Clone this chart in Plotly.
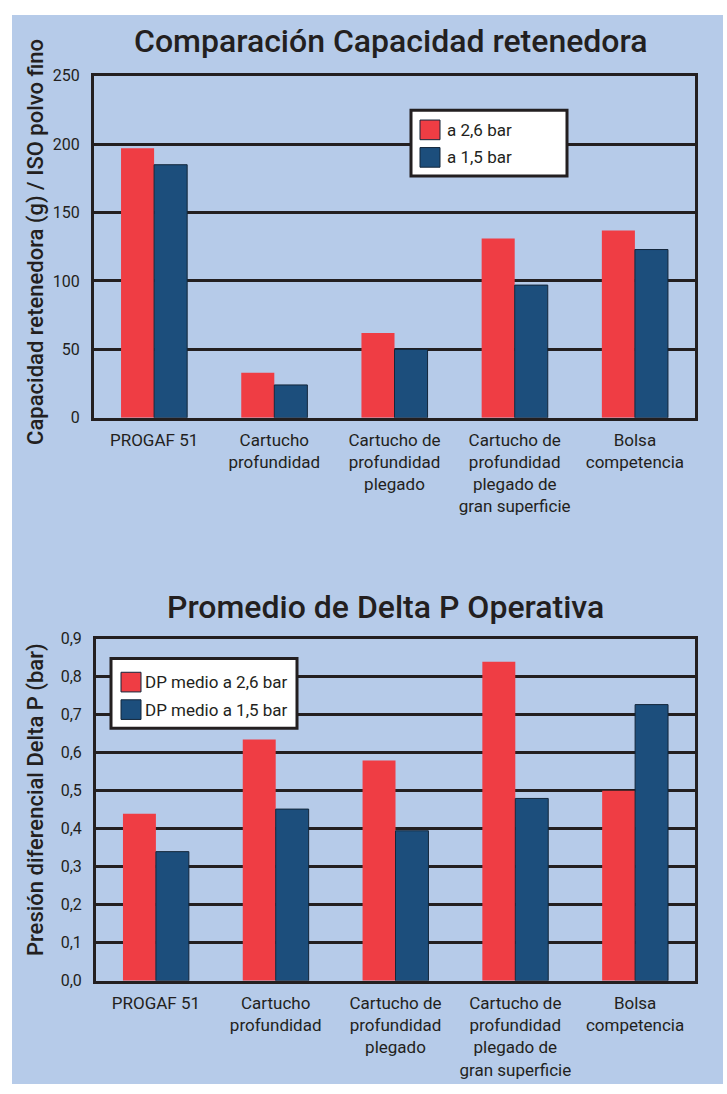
import plotly.graph_objects as go

# categorias (eje x) - iguales en los dos graficos
categorias = [
    "PROGAF 51",
    "Cartucho<br>profundidad",
    "Cartucho de<br>profundidad<br>plegado",
    "Cartucho de<br>profundidad<br>plegado de<br>gran superficie",
    "Bolsa<br>competencia",
]

# capacidad retenedora (g)
cap_26 = [197, 33, 62, 131, 137]
cap_15 = [185, 24, 50, 97, 123]

# delta P medio (bar)
dp_26 = [0.44, 0.635, 0.58, 0.84, 0.5]
dp_15 = [0.34, 0.452, 0.395, 0.48, 0.727]

cap_ticks = [0, 50, 100, 150, 200, 250]
dp_ticks = [0.0, 0.1, 0.2, 0.3, 0.4, 0.5, 0.6, 0.7, 0.8, 0.9]

W, H = 727, 1094
ROJO = "#ef3d44"
AZUL = "#1c4e7c"
FONDO = "#b6cbe9"
NEGRO = "#231f20"
FUENTE = "Roboto"


def px_x(p):
    return p / W


def px_y(p):
    return 1 - p / H


fig = go.Figure()

fig.add_trace(go.Bar(x=categorias, y=cap_26, name="a 2,6 bar",
                     marker=dict(color=ROJO, line=dict(width=0)),
                     xaxis="x", yaxis="y", showlegend=False))
fig.add_trace(go.Bar(x=categorias, y=cap_15, name="a 1,5 bar",
                     marker=dict(color=AZUL, line=dict(width=1, color="#13263a")),
                     xaxis="x", yaxis="y", showlegend=False))

fig.add_trace(go.Bar(x=categorias, y=dp_26, name="DP medio a 2,6 bar",
                     marker=dict(color=ROJO, line=dict(width=0)),
                     xaxis="x2", yaxis="y2", showlegend=False))
fig.add_trace(go.Bar(x=categorias, y=dp_15, name="DP medio a 1,5 bar",
                     marker=dict(color=AZUL, line=dict(width=1, color="#13263a")),
                     xaxis="x2", yaxis="y2", showlegend=False))

eje_x = dict(showline=True, linewidth=3, linecolor=NEGRO, mirror=True,
             showgrid=False, ticks="", tickfont=dict(size=17, color=NEGRO),
             ticklabelstandoff=5)
eje_y = dict(showline=True, linewidth=3, linecolor=NEGRO, mirror=True,
             showgrid=True, gridwidth=3, gridcolor=NEGRO, zeroline=False,
             ticks="", tickfont=dict(size=16, color=NEGRO),
             ticklabelstandoff=8)

shapes = [dict(type="rect", xref="paper", yref="paper", layer="below",
               x0=px_x(12), x1=px_x(723), y0=0, y1=px_y(6),
               fillcolor=FONDO, line=dict(width=0))]
annotations = [
    dict(text="Comparación Capacidad retenedora", x=px_x(391), y=px_y(33),
         font=dict(size=32, weight=500)),
    dict(text="Promedio de Delta P Operativa", x=px_x(385), y=px_y(609),
         font=dict(size=32, weight=500)),
    dict(text="Capacidad retenedora (g) / ISO polvo fino", x=px_x(36), y=px_y(237),
         textangle=-90, font=dict(size=22, weight=500)),
    dict(text="Presión diferencial Delta P (bar)", x=px_x(36), y=px_y(805),
         textangle=-90, font=dict(size=22, weight=500)),
]


# leyenda dibujada a mano: caja blanca, cuadrados de color y textos
def leyenda(caja, fila_y, x_cuadro, x_texto, trazas):
    x0, y0, x1, y1 = caja
    shapes.append(dict(type="rect", xref="paper", yref="paper",
                       x0=px_x(x0), x1=px_x(x1), y0=px_y(y1), y1=px_y(y0),
                       fillcolor="white", line=dict(color=NEGRO, width=3)))
    for fy, tr in zip(fila_y, trazas):
        shapes.append(dict(type="rect", xref="paper", yref="paper",
                           x0=px_x(x_cuadro), x1=px_x(x_cuadro + 20),
                           y0=px_y(fy + 10), y1=px_y(fy - 10),
                           fillcolor=tr.marker.color,
                           line=dict(color="#13263a", width=1)))
        annotations.append(dict(text=tr.name, x=px_x(x_texto), y=px_y(fy),
                                xanchor="left", font=dict(size=17)))


leyenda((411, 103, 567, 170), [123, 151], 420, 445, fig.data[0:2])
leyenda((111, 661, 297, 732), [685, 713], 121, 143, fig.data[2:4])

for a in annotations:
    a.setdefault("xref", "paper")
    a.setdefault("yref", "paper")
    a.setdefault("showarrow", False)
    a.setdefault("xanchor", "center")
    a.setdefault("yanchor", "middle")

fig.update_layout(
    width=W, height=H,
    margin=dict(l=0, r=0, t=0, b=0),
    paper_bgcolor="white",
    plot_bgcolor=FONDO,
    font=dict(family=FUENTE, color=NEGRO),
    separators=",.",
    barmode="group", bargap=0.45, bargroupgap=0,
    xaxis=dict(eje_x, domain=[px_x(94), px_x(695)], anchor="y"),
    yaxis=dict(eje_y, domain=[px_y(416), px_y(68)], anchor="x",
               range=[0, 250], tickvals=cap_ticks),
    xaxis2=dict(eje_x, domain=[px_x(96), px_x(695)], anchor="y2"),
    yaxis2=dict(eje_y, domain=[px_y(989), px_y(641)], anchor="x2",
                range=[0, 0.9], tickvals=dp_ticks, tickformat=".1f"),
    shapes=shapes,
    annotations=annotations,
)

# sin el margen por defecto del body, la figura ocupa la ventana entera
sin_margen = """
document.body.style.margin = '0';
document.body.style.overflow = 'hidden';
"""

fig.write_html("out.html", config={"displayModeBar": False}, post_script=sin_margen)
